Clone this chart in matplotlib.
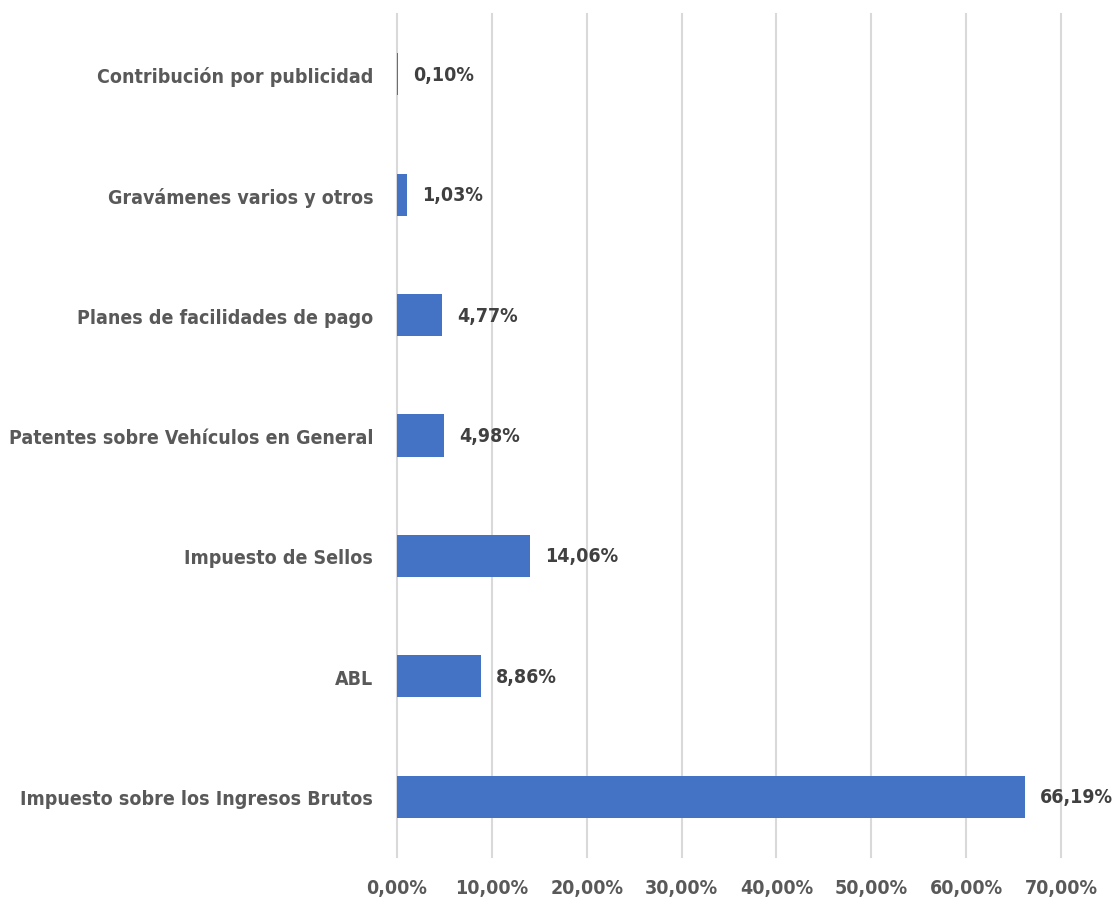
import matplotlib.pyplot as plt
from matplotlib.ticker import FuncFormatter

categorias = ['Impuesto sobre los Ingresos Brutos', 'ABL', 'Impuesto de Sellos',
              'Patentes sobre Vehículos en General', 'Planes de facilidades de pago',
              'Gravámenes varios y otros', 'Contribución por publicidad']
valores = [66.19, 8.86, 14.06, 4.98, 4.77, 1.03, 0.10]
etiquetas = ['66,19%', '8,86%', '14,06%', '4,98%', '4,77%', '1,03%', '0,10%']

plt.rcParams['font.family'] = ['DejaVu Sans']
plt.rcParams['font.stretch'] = 'condensed'
plt.rcParams['font.weight'] = 'bold'

fig = plt.figure(figsize=(11.16, 9.12), dpi=100)
ax = fig.add_axes([0.3557, 0.0592, 0.595, 0.9244])

pos = list(range(len(categorias)))
ax.barh(pos, valores, height=0.35, color='#4472C4', zorder=3)
for p, v, t in zip(pos, valores, etiquetas):
    ax.text(v + 1.6, p, t, va='center', ha='left', fontsize=14,
            fontweight='bold', fontstretch='condensed', color='#404040', zorder=4)

ax.set_xlim(0, 70)
ax.set_ylim(-0.5, 6.5)
ax.set_xticks(range(0, 71, 10))
ax.xaxis.set_major_formatter(FuncFormatter(lambda x, _: f'{x:.2f}'.replace('.', ',') + '%'))
ax.set_yticks(pos)
ax.set_yticklabels(categorias)
ax.grid(axis='x', color='#d9d9d9', linewidth=1.5, zorder=0)
for gl in ax.get_xgridlines():
    gl.set_clip_on(False)
for s in ax.spines.values():
    s.set_visible(False)
ax.tick_params(axis='both', length=0, labelsize=14, labelcolor='#595959')
ax.tick_params(axis='x', pad=15)
ax.tick_params(axis='y', pad=17)
for lbl in ax.get_xticklabels() + ax.get_yticklabels():
    lbl.set_fontweight('bold')
    lbl.set_fontstretch('condensed')

fig.savefig('out.png', dpi=100)
